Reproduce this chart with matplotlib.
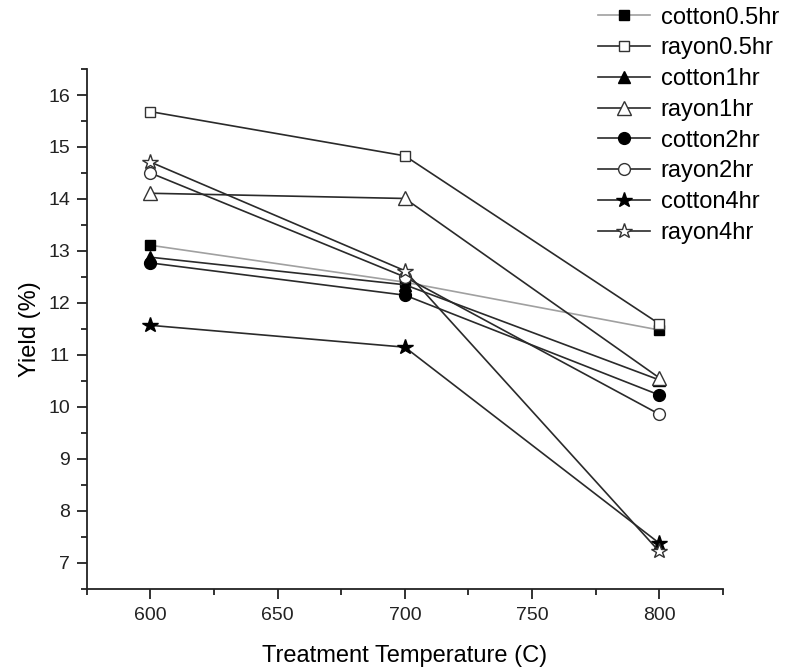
import matplotlib
matplotlib.use('Agg')
import matplotlib.pyplot as plt
from matplotlib.ticker import MultipleLocator

plt.rcParams['font.family'] = ['Liberation Sans', 'DejaVu Sans']

temps = [600, 700, 800]

labels = ['cotton0.5hr', 'rayon0.5hr', 'cotton1hr', 'rayon1hr',
          'cotton2hr', 'rayon2hr', 'cotton4hr', 'rayon4hr']

cotton_05 = [13.11, 12.40, 11.48]
rayon_05 = [15.68, 14.83, 11.60]
cotton_1 = [12.88, 12.35, 10.52]
rayon_1 = [14.11, 14.01, 10.56]
cotton_2 = [12.77, 12.15, 10.23]
rayon_2 = [14.50, 12.50, 9.86]
cotton_4 = [11.57, 11.15, 7.38]
rayon_4 = [14.71, 12.62, 7.22]

series = [cotton_05, rayon_05, cotton_1, rayon_1,
          cotton_2, rayon_2, cotton_4, rayon_4]

markers = ['s', 's', '^', '^', 'o', 'o', '*', '*']
filled = [True, False, True, False, True, False, True, False]
sizes = [7.5, 7.5, 8.5, 9.5, 8.5, 8.5, 11.5, 11.5]
line_colors = ['#a0a0a0'] + ['#2a2a2a'] * 7

fig = plt.figure(figsize=(7.9, 6.7), dpi=100)
ax = fig.add_axes([0.110, 0.121, 0.805, 0.776])

for vals, lab, m, f, ms, lc in zip(series, labels, markers, filled, sizes, line_colors):
    ax.plot(temps, vals, color=lc, linewidth=1.2, marker=m, markersize=ms,
            markerfacecolor='black' if f else 'white',
            markeredgecolor='black' if f else '#333333',
            markeredgewidth=1.0, label=lab)

ax.set_xlim(575, 825)
ax.set_ylim(6.5, 16.5)
ax.xaxis.set_major_locator(MultipleLocator(50))
ax.xaxis.set_minor_locator(MultipleLocator(25))
ax.yaxis.set_major_locator(MultipleLocator(1))
ax.yaxis.set_minor_locator(MultipleLocator(0.5))

for s in ['top', 'right']:
    ax.spines[s].set_visible(False)
for s in ['left', 'bottom']:
    ax.spines[s].set_linewidth(1.3)
    ax.spines[s].set_color('#222222')

ax.tick_params(which='major', direction='out', length=7, width=1.3, labelsize=14,
               colors='#222222', pad=5)
ax.tick_params(axis='x', which='major', pad=6)
ax.tick_params(which='minor', direction='out', length=4, width=1.3, colors='#222222')

ax.set_xlabel('Treatment Temperature (C)', fontsize=17, labelpad=15)
ax.set_ylabel('Yield (%)', fontsize=17, labelpad=5)

fig.legend(loc='upper left', bbox_to_anchor=(0.757, 0.99), frameon=False,
           fontsize=17, handlelength=2.2, handletextpad=0.45, labelspacing=0.37,
           borderpad=0, borderaxespad=0)

fig.savefig('out.png', dpi=100)
